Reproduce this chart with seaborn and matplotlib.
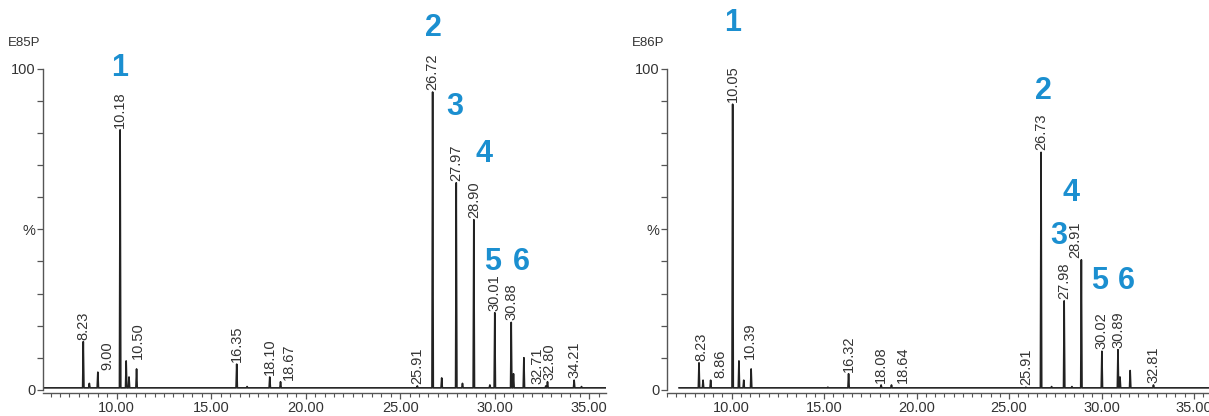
import pandas as pd
import matplotlib.pyplot as plt
import seaborn as sns


# E85P - labelled peaks (retention time, min / relative abundance, %)
e85_rt = [8.23, 9.00, 10.18, 10.50, 16.35, 18.10, 18.67, 25.91, 26.72,
          27.97, 28.90, 30.01, 30.88, 32.71, 32.80, 34.21]
e85_ht = [15, 5.5, 81, 9, 8, 4, 2.5, 1.2, 92.8,
          64.5, 53, 24, 21, 1.2, 2.5, 3]
# unlabelled small peaks
e85_minor_rt = [8.55, 10.65, 11.05, 16.9, 27.20, 28.30, 29.75, 31.00, 31.55, 34.60]
e85_minor_ht = [2, 4, 6.5, 1, 3.7, 2, 1.5, 5, 10, 1]

# E86P
e86_rt = [8.23, 8.86, 10.05, 10.39, 16.32, 18.08, 18.64, 25.91, 26.73,
          27.98, 28.91, 30.02, 30.89, 32.81]
e86_ht = [8.4, 3, 89, 9, 5, 1.5, 1.5, 0.8, 74,
          27.7, 40.5, 12, 12.5, 1.5]
e86_minor_rt = [8.45, 10.65, 11.05, 15.2, 27.3, 28.4, 31.00, 31.55]
e86_minor_ht = [3, 3, 6.5, 0.8, 1, 1, 4, 6]

compounds = ["1", "2", "3", "4", "5", "6"]

# layout only: label shifts (min) and compound number positions
e85_dx = [0, 0.5, 0, 0.6, 0, 0, 0.45, 0, 0, 0, 0, 0, 0, -0.45, 0.1, 0]
e86_dx = [0.15, 0.5, 0, 0.6, 0, 0, 0.6, 0, 0, 0, -0.35, 0, 0, 0]
e85_num_xy = [(10.13, 100.3), (26.74, 112.8), (27.91, 88.2),
              (29.44, 73.5), (29.92, 39.9), (31.4, 39.9)]
e86_num_xy = [(10.05, 114.3), (26.88, 93.1), (27.67, 48),
              (28.36, 61.4), (29.89, 34), (31.32, 34)]

BASE = 0.6
HALF_W = 0.035
BLUE = "#1b8fd0"
INK = "#222222"


def trace(rt, ht, minor_rt, minor_ht, x0, x1):
    peaks = sorted(zip(list(rt) + list(minor_rt), list(ht) + list(minor_ht)))
    rows = [(x0, BASE)]
    for t, h in peaks:
        rows += [(t - HALF_W, BASE), (t, h), (t + HALF_W, BASE)]
    rows.append((x1, BASE))
    return pd.DataFrame(rows, columns=["time", "abundance"])


sns.set_style("ticks")
plt.rcParams["font.family"] = ["Liberation Sans", "DejaVu Sans"]

fig = plt.figure(figsize=(12.09, 4.16), dpi=100)

panels = [
    ("E85P", e85_rt, e85_ht, e85_minor_rt, e85_minor_ht, e85_dx, e85_num_xy,
     (6.1, 35.9), [0.0356, 0.0553, 0.4657, 0.779]),
    ("E86P", e86_rt, e86_ht, e86_minor_rt, e86_minor_ht, e86_dx, e86_num_xy,
     (7.14, 35.8), [0.5517, 0.0553, 0.4481, 0.779]),
]

for name, rt, ht, mrt, mht, dx, num_xy, xlim, rect in panels:
    ax = fig.add_axes(rect)
    df = trace(rt, ht, mrt, mht, xlim[0], xlim[1])
    sns.lineplot(data=df, x="time", y="abundance", ax=ax, sort=False,
                 estimator=None, color=INK, linewidth=1.2)

    ax.set_xlim(*xlim)
    ax.set_ylim(-1, 100)
    sns.despine(ax=ax)
    for s in ["left", "bottom"]:
        ax.spines[s].set_color("#555555")
        ax.spines[s].set_linewidth(1.0)
    ax.spines["left"].set_bounds(0, 100)

    ax.set_yticks(range(0, 101, 10))
    ax.set_yticklabels(["0" if v == 0 else "%" if v == 50 else "100" if v == 100 else ""
                        for v in range(0, 101, 10)])
    ax.set_xticks([10, 15, 20, 25, 30, 35])
    ax.set_xticklabels(["10.00", "15.00", "20.00", "25.00", "30.00", "35.00"])
    ax.set_xticks([x / 2 for x in range(13, 72)], minor=True)
    ax.tick_params(axis="both", which="major", direction="out", length=4,
                   width=0.9, color="#555555", labelsize=10.5,
                   labelcolor="#333333", pad=1.5)
    ax.tick_params(axis="x", which="minor", direction="out", length=3,
                   width=0.8, color="#555555")
    ax.set_xlabel("")
    ax.set_ylabel("")

    for t, h, d in zip(rt, ht, dx):
        ax.text(t + d, h + 0.6, f"{t:.2f}", rotation=90, ha="center",
                va="bottom", fontsize=10.5, color="#333333")

    for c, (x, y) in zip(compounds, num_xy):
        ax.text(x, y, c, ha="center", va="center", fontsize=22,
                fontweight="bold", color=BLUE)

    ax.text(-0.005, 1.08, name, transform=ax.transAxes, ha="right",
            va="center", fontsize=9.5, color="#333333")

fig.savefig("out.png", dpi=100)
